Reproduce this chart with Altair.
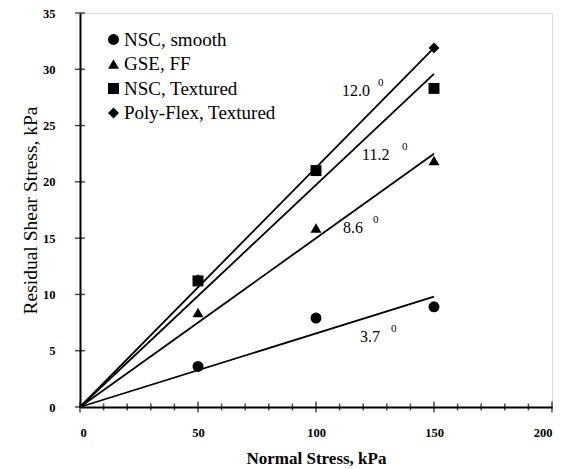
import altair as alt
import pandas as pd

series = ["NSC, smooth", "GSE, FF", "NSC, Textured", "Poly-Flex, Textured"]
shapes = ["circle", "triangle-up", "square", "diamond"]
normal = [50, 100, 150]
smooth_vals = [3.6, 7.9, 8.9]
gse_vals = [8.4, 15.9, 21.9]
nsct_vals = [11.2, 21.0, 28.3]
poly_vals = [11.3, 21.0, 31.9]
line_end_x = 150
line_end_y = [9.8, 22.5, 29.6, 31.9]
angle_text = ["3.7", "8.6", "11.2", "12.0"]
angle_x = [118.6, 111.4, 119.5, 111.0]
angle_y = [6.2, 15.9, 22.4, 28.1]
sup_x = [131.8, 124.2, 136.4, 126.3]
x_ticks = list(range(0, 201, 10))
y_ticks = list(range(0, 36, 5))

rows = []
for s, vals in zip(series, [smooth_vals, gse_vals, nsct_vals, poly_vals]):
    for x, y in zip(normal, vals):
        rows.append({"series": s, "x": x, "y": y})
pts = pd.DataFrame(rows)

lrows = []
for s, ye in zip(series, line_end_y):
    lrows.append({"series": s, "x": 0, "y": 0})
    lrows.append({"series": s, "x": line_end_x, "y": ye})
lines = pd.DataFrame(lrows)

ann = pd.DataFrame({"t": angle_text, "x": angle_x, "y": angle_y, "sx": sup_x})
xt = pd.DataFrame({"x": x_ticks, "y": [0] * len(x_ticks), "major": [v % 50 == 0 for v in x_ticks]})
yt = pd.DataFrame({"y": y_ticks, "x": [0] * len(y_ticks)})

FONT = "Liberation Serif"
xscale = alt.Scale(domain=[0, 200], nice=False)
yscale = alt.Scale(domain=[0, 35], nice=False)

xaxis = alt.Axis(values=[0, 50, 100, 150, 200], ticks=False, grid=False,
                 title="Normal Stress, kPa", titleFont=FONT, titleFontSize=17,
                 titleFontWeight="bold", labelFont=FONT, labelFontSize=12.5,
                 labelFontWeight="bold", labelPadding=19, titlePadding=12,
                 domainColor="black", domainWidth=2, labelColor="black", titleColor="black")
yaxis = alt.Axis(values=y_ticks, ticks=False, grid=False,
                 title="Residual Shear Stress,  kPa", titleFont=FONT, titleFontSize=19.5,
                 titleFontWeight="normal", labelFont=FONT, labelFontSize=12.5,
                 labelFontWeight="bold", labelPadding=25, titlePadding=2,
                 domainColor="black", domainWidth=2, labelColor="black", titleColor="black")

base_x = alt.X("x:Q", scale=xscale, axis=xaxis)
base_y = alt.Y("y:Q", scale=yscale, axis=yaxis)

line_layer = alt.Chart(lines).mark_line(color="black", strokeWidth=1.8).encode(
    x=base_x, y=base_y, detail="series:N")

pt_layer = alt.Chart(pts).mark_point(filled=True, color="black", opacity=1, size=120).encode(
    x=base_x, y=base_y,
    shape=alt.Shape("series:N", scale=alt.Scale(domain=series, range=shapes),
                    legend=alt.Legend(title=None, orient="none", legendX=24, legendY=17,
                                      labelFont=FONT, labelFontSize=19, labelColor="black",
                                      symbolFillColor="black", symbolStrokeColor="black",
                                      symbolSize=120, rowPadding=4.5, labelOffset=1,
                                      symbolOffset=0)))

ann_layer = alt.Chart(ann).mark_text(font=FONT, fontSize=16, align="left", baseline="middle",
                                     color="black").encode(x=base_x, y=base_y, text="t:N")
sup_layer = alt.Chart(ann).mark_text(font=FONT, fontSize=11, align="left", baseline="middle",
                                     color="black", dy=-8, text="0").encode(
    x=alt.X("sx:Q", scale=xscale, axis=xaxis), y=base_y)

xtick_layer = alt.Chart(xt).mark_tick(color="black", thickness=1.5, orient="vertical").encode(
    x=base_x, y=base_y,
    size=alt.condition("datum.major", alt.value(11), alt.value(7)))
ytick_layer = alt.Chart(yt).mark_tick(color="black", thickness=1.5, orient="horizontal", size=10).encode(
    x=base_x, y=base_y)

chart = alt.layer(line_layer, xtick_layer, ytick_layer, pt_layer, ann_layer, sup_layer).properties(
    width=472, height=394,
    autosize=alt.AutoSizeParams(type="none"),
    padding={"left": 80, "top": 13, "right": 13, "bottom": 62},
).configure_view(stroke="black", strokeWidth=1.5).configure(
    background="white", font=FONT
).configure_legend(labelFont=FONT).configure_text(font=FONT)

chart.save("out.html", embed_options={"renderer": "svg", "actions": False})
